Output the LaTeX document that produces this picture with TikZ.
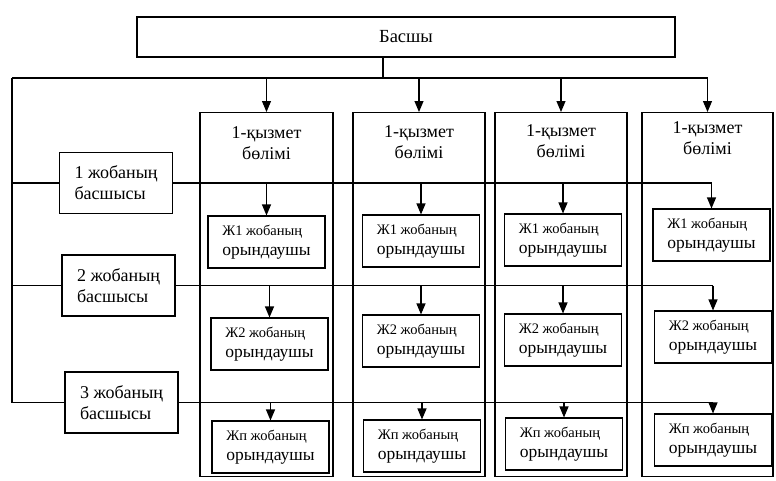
\documentclass[tikz,border=0pt]{standalone}
\usepackage{fontspec}
\setmainfont{Liberation Serif}
\usetikzlibrary{arrows.meta}
\newcommand\execlabel[1]{{\fontsize{14.5}{17}\selectfont #1}\\орындаушы}
\begin{document}
\begin{tikzpicture}[x=1pt,y=-1pt, line width=1.1pt,
  arr/.style={-{Triangle[width=9pt,length=11pt]}},
  box/.style={draw, rectangle, inner sep=0pt},
  colbox/.style={box, minimum width=132pt, minimum height=364pt, anchor=north},
  head/.style={align=center, font=\fontsize{18}{21}\selectfont},
  lead/.style={box, minimum width=113pt, minimum height=61pt, align=left, font=\fontsize{18}{21}\selectfont},
  exec/.style={box, minimum width=117pt, minimum height=52pt, align=left, font=\fontsize{17.5}{20}\selectfont},
  ]
\useasboundingbox (0,0) rectangle (776,480);

\node[box, minimum width=538pt, minimum height=40pt, font=\fontsize{18.5}{21}\selectfont] (boss) at (406,37) {Басшы};
\coordinate (bus) at (383,78);
\coordinate (busL) at (12,78);

\node[colbox, minimum width=133pt] (c1) at (266.5,112) {};
\node[colbox] (c2) at (419,112) {};
\node[colbox] (c3) at (561,112) {};
\node[colbox, minimum width=131pt] (c4) at (707.5,112) {};

\node[head] (h1) at (266.5,143) {1-қызмет\\бөлімі};
\node[head] (h2) at (419,142) {1-қызмет\\бөлімі};
\node[head] (h3) at (561,141) {1-қызмет\\бөлімі};
\node[head] (h4) at (707.5,138) {1-қызмет\\бөлімі};

\node[lead] (L1) at (116,183) {1 жобаның\\басшысы};
\node[lead] (L2) at (118.5,285.5) {2 жобаның\\басшысы};
\node[lead] (L3) at (121.5,402.5) {3 жобаның\\басшысы};

\node[exec] (E11) at (266.5,242) {\execlabel{Ж1 жобаның}};
\node[exec] (E12) at (421,241) {\execlabel{Ж1 жобаның}};
\node[exec] (E13) at (563,240) {\execlabel{Ж1 жобаның}};
\node[exec] (E14) at (711.5,235) {\execlabel{Ж1 жобаның}};

\node[exec] (E21) at (269.5,344) {\execlabel{Ж2 жобаның}};
\node[exec] (E22) at (421,341) {\execlabel{Ж2 жобаның}};
\node[exec] (E23) at (563,340) {\execlabel{Ж2 жобаның}};
\node[exec] (E24) at (713,337) {\execlabel{Ж2 жобаның}};

\node[exec] (E31) at (270.5,447) {\execlabel{Жп жобаның}};
\node[exec] (E32) at (422,446) {\execlabel{Жп жобаның}};
\node[exec] (E33) at (564,444) {\execlabel{Жп жобаның}};
\node[exec] (E34) at (713,440) {\execlabel{Жп жобаның}};

\draw (boss.south -| bus) -- (bus);
\draw (busL) -- (c4.north |- bus);
\foreach \c in {c1,c2,c3,c4} \draw[arr] (\c.north |- bus) -- (\c.north);
\draw (busL) |- (L3.west);
\draw (L1.west -| busL) -- (L1.west);
\draw (L2.west -| busL) -- (L2.west);
\foreach \r in {1,2,3} {
  \draw (L\r.east) -- (E\r4.north |- L\r.east);
  \foreach \j in {1,2,3,4} \draw[arr] (E\r\j.north |- L\r.east) -- (E\r\j.north);
}
\end{tikzpicture}
\end{document}
